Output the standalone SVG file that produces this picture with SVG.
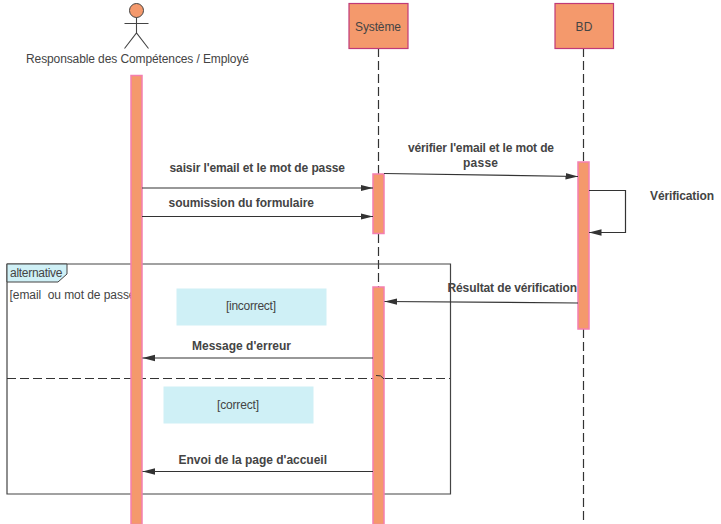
<svg xmlns="http://www.w3.org/2000/svg" width="721" height="524" viewBox="0 0 721 524">
<style>
text{font-family:"Liberation Sans",Arial,sans-serif;font-size:12px;fill:#444;white-space:pre;}
.b{font-weight:bold;font-size:12px;}
.bar{fill:#F4996C;stroke:#F47FB0;stroke-width:1.5;}
.box{fill:#F4996C;stroke:#C03A78;stroke-width:1.2;}
.life{stroke:#333;stroke-width:1.2;stroke-dasharray:9 4;fill:none;}
.msg{stroke:#333;stroke-width:1.2;fill:none;marker-end:url(#arr);}
.frame{stroke:#444;stroke-width:1.2;fill:none;}
.cyan{fill:#CFF0F6;}
</style>
<defs>
<marker id="arr" markerUnits="userSpaceOnUse" markerWidth="13" markerHeight="8" refX="12.5" refY="4" orient="auto">
<path d="M0 0.8L12.5 4L0 7.2Z" fill="#333"/>
</marker>
</defs>
<g id="connectors-lifelines">
<path class="life" d="M378.500 48V174M378.500 234V287"/>
<path class="life" d="M583.500 48V162M583.500 329V524"/>
</g>
<g id="frame">
<path d="M7 264H450.500V494H7Z" class="frame"/>
<path d="M7 264H67V274L58 282H7Z" fill="#CFF0F6" stroke="#444" stroke-width="1"/>
<text x="10" y="277" textLength="52.500">alternative</text>
<path class="life" d="M7 378.500H450"/>
<text x="9.500" y="299" textLength="126">[email  ou mot de passe</text>
</g>
<g id="guard-incorrect"><rect class="cyan" x="176.500" y="288.500" width="150" height="37"/><text x="226" y="310" textLength="50">[incorrect]</text></g>
<g id="guard-correct"><rect class="cyan" x="163.500" y="386.500" width="150" height="37"/><text x="217" y="409" textLength="42">[correct]</text></g>
<g id="actor">
<circle cx="136.500" cy="10.500" r="7" fill="#F4996C" stroke="#444" stroke-width="1"/>
<path d="M136.500 17.500V33M124.500 23.500H148.500M124.500 48.500L136.500 33L148.500 48.500" stroke="#444" stroke-width="1.100" fill="none"/>
<text x="26" y="63" textLength="223">Responsable des Compétences / Employé</text>
</g>
<g id="actor-activation"><rect class="bar" x="131" y="75.500" width="11" height="449"/></g>
<g id="systeme"><rect class="box" x="349" y="3.500" width="59" height="45"/><text x="355" y="31" textLength="46">Système</text></g>
<g id="bd"><rect class="box" x="555" y="3.500" width="58.500" height="45"/><text x="575.500" y="31" textLength="17">BD</text></g>
<g id="systeme-activation-1"><rect class="bar" x="373" y="174" width="11" height="59.500"/></g>
<g id="systeme-activation-2"><rect class="bar" x="373" y="287" width="11" height="237.500"/></g>
<g id="bd-activation"><rect class="bar" x="578" y="162" width="11" height="167"/></g>
<g id="connectors">
<path class="msg" d="M142 188H373"/>
<path class="msg" d="M142 216.500H373"/>
<path class="msg" d="M384 173.500L578 176.500"/>
<path class="msg" d="M589 190.500H625.500V232.500H589"/>
<path class="msg" d="M578 303L384.500 301.500"/>
<path class="msg" d="M373 358L142.500 358"/>
<path class="msg" d="M373 471.500H142.500"/>
<path d="M376 375.500Q381 374.500 384 379" fill="none" stroke="#333" stroke-width="1"/>
</g>
<g id="labels">
<text class="b" x="169.500" y="172" textLength="175.500">saisir l'email et le mot de passe</text>
<text class="b" x="168.500" y="207" textLength="145.500">soumission du formulaire</text>
<text class="b" x="408" y="152" textLength="146">vérifier l'email et le mot de</text>
<text class="b" x="463" y="167" textLength="35">passe</text>
<text class="b" x="650" y="200" textLength="64">Vérification</text>
<text class="b" x="447.500" y="292" textLength="129.500">Résultat de vérification</text>
<text class="b" x="192" y="350" textLength="99">Message d'erreur</text>
<text class="b" x="178.500" y="464" textLength="148.500">Envoi de la page d'accueil</text>
</g>
</svg>
